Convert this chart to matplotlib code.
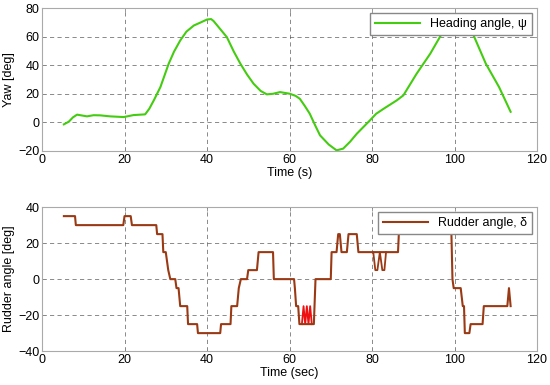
import matplotlib
matplotlib.use("Agg")
import matplotlib.pyplot as plt

plt.rcParams['font.family'] = ['Liberation Sans', 'DejaVu Sans']

# Heading angle (top panel)
head_t = [5.3, 6.5, 7.5, 8.5, 10.9, 12.5, 14.1, 16.5, 19.8, 22.2, 25.0, 26.0, 27.1,
          28.7, 30.7, 32.0, 33.5, 35.0, 36.8, 38.5, 40.0, 41.0, 41.6, 43.0, 44.8,
          46.5, 48.1, 49.7, 51.3, 53.0, 54.5, 56.0, 57.7, 60.1, 61.5, 62.5, 63.7,
          64.9, 66.2, 67.4, 69.5, 71.4, 73.0, 74.7, 76.3, 79.5, 81.0, 82.8, 86.0,
          87.6, 90.8, 94.1, 96.9, 97.7, 99.5, 101.5, 103.5, 104.8, 107.6, 110.8, 113.6]
head_y = [-1.4, 0.5, 3.5, 5.4, 4.2, 5.0, 4.9, 4.2, 3.7, 5.1, 5.6, 9.5, 15.4,
          24.7, 41.0, 49.5, 57.3, 63.5, 67.8, 70.0, 72.0, 72.3, 70.9, 66.0, 59.7,
          49.5, 41.0, 33.5, 27.0, 22.0, 19.6, 20.0, 21.2, 20.0, 18.5, 16.5, 11.5,
          6.1, -2.0, -9.1, -15.5, -19.6, -18.4, -13.5, -8.0, 1.4, 6.0, 9.5, 15.4,
          18.9, 34.0, 48.0, 62.0, 66.7, 72.0, 74.0, 68.0, 59.7, 41.0, 24.7, 7.4]

# Rudder angle (bottom panel), actual
rud_t = [5.3, 8.0, 8.2, 19.7, 20.0, 21.5, 21.8, 27.7, 27.9, 29.2, 29.4, 30.0, 30.6,
         31.1, 32.3, 32.6, 33.1, 33.5, 35.2, 35.4, 37.6, 37.8, 43.2, 43.4, 45.7,
         45.9, 47.3, 47.7, 48.2, 49.7, 50.0, 52.1, 52.5, 56.0, 56.2, 61.1, 61.3,
         61.6, 62.1, 62.4, 64.9, 65.9, 66.3, 70.0, 70.2, 71.4, 71.8, 72.2, 72.6,
         73.9, 74.3, 76.3, 76.7, 80.3, 86.3, 86.6, 99.2, 99.5, 99.8, 100.1, 101.5,
         102.0, 102.3, 102.5, 103.6, 103.9, 106.8, 107.1, 112.8, 113.2, 113.6]
rud_y = [35, 35, 30, 30, 35, 35, 30, 30, 25, 25, 15, 15, 5,
         0, 0, -5, -5, -15, -15, -25, -25, -30, -30, -25, -25,
         -15, -15, -5, 0, 0, 5, 5, 15, 15, 0, 0, -5,
         -15, -15, -25, -25, -25, 0, 0, 15, 15, 25, 25, 15,
         15, 25, 25, 15, 15, 15, 30, 30, 0, -5, -5, -5,
         -15, -15, -30, -30, -25, -25, -15, -15, -5, -15]

# Rudder command oscillations (red)
cmd_t = [63.0, 63.4, 63.8, 64.2, 64.6, 65.0, 65.4]
cmd_y = [-25, -15, -25, -15, -25, -15, -25]
cmd2_t = [80.3, 80.8, 81.3, 81.9, 82.5, 83.0, 83.4]
cmd2_y = [15, 5, 5, 15, 5, 5, 15]

grid_kw = dict(color='#555555', linestyle=(0, (5, 4)), linewidth=0.6, alpha=0.8)

fig = plt.figure(figsize=(5.5, 3.85), dpi=100)
ax1 = fig.add_axes([0.0764, 0.608, 0.9, 0.371])
ax2 = fig.add_axes([0.0764, 0.088, 0.9, 0.374])

ax1.plot(head_t, head_y, color='#44CC11', linewidth=1.5, label='Heading angle, ψ')
ax1.set_xlim(0, 120)
ax1.set_ylim(-20, 80)
ax1.set_xticks(range(0, 121, 20))
ax1.set_yticks(range(-20, 81, 20))
ax1.set_xlabel('Time (s)', fontsize=9, labelpad=1)
ax1.set_ylabel('Yaw [deg]', fontsize=9, labelpad=2)
ax1.legend(loc='upper right', fontsize=9, frameon=True, fancybox=False,
           edgecolor='#888888', framealpha=1, handlelength=3.6,
           borderpad=0.4, borderaxespad=0.4)

ax2.plot(cmd_t, cmd_y, color='#EE1111', linewidth=1.3)
ax2.plot(cmd2_t, cmd2_y, color='#9A3A14', linewidth=1.3)
ax2.plot(rud_t, rud_y, color='#9A3A14', linewidth=1.5, label='Rudder angle, δ')
ax2.set_xlim(0, 120)
ax2.set_ylim(-40, 40)
ax2.set_xticks(range(0, 121, 20))
ax2.set_yticks(range(-40, 41, 20))
ax2.set_xlabel('Time (sec)', fontsize=9, labelpad=1)
ax2.set_ylabel('Rudder angle [deg]', fontsize=9, labelpad=2)
ax2.legend(loc='upper right', fontsize=9, frameon=True, fancybox=False,
           edgecolor='#888888', framealpha=1, handlelength=3.6,
           borderpad=0.4, borderaxespad=0.4)

for ax in (ax1, ax2):
    ax.grid(True, **grid_kw)
    ax.set_axisbelow(True)
    for s in ax.spines.values():
        s.set_color('#AAAAAA')
        s.set_linewidth(0.8)
    ax.tick_params(direction='in', length=3, width=0.6, color='#888888',
                   labelsize=9, top=True, right=True, pad=2)

fig.savefig('out.png', dpi=100)
